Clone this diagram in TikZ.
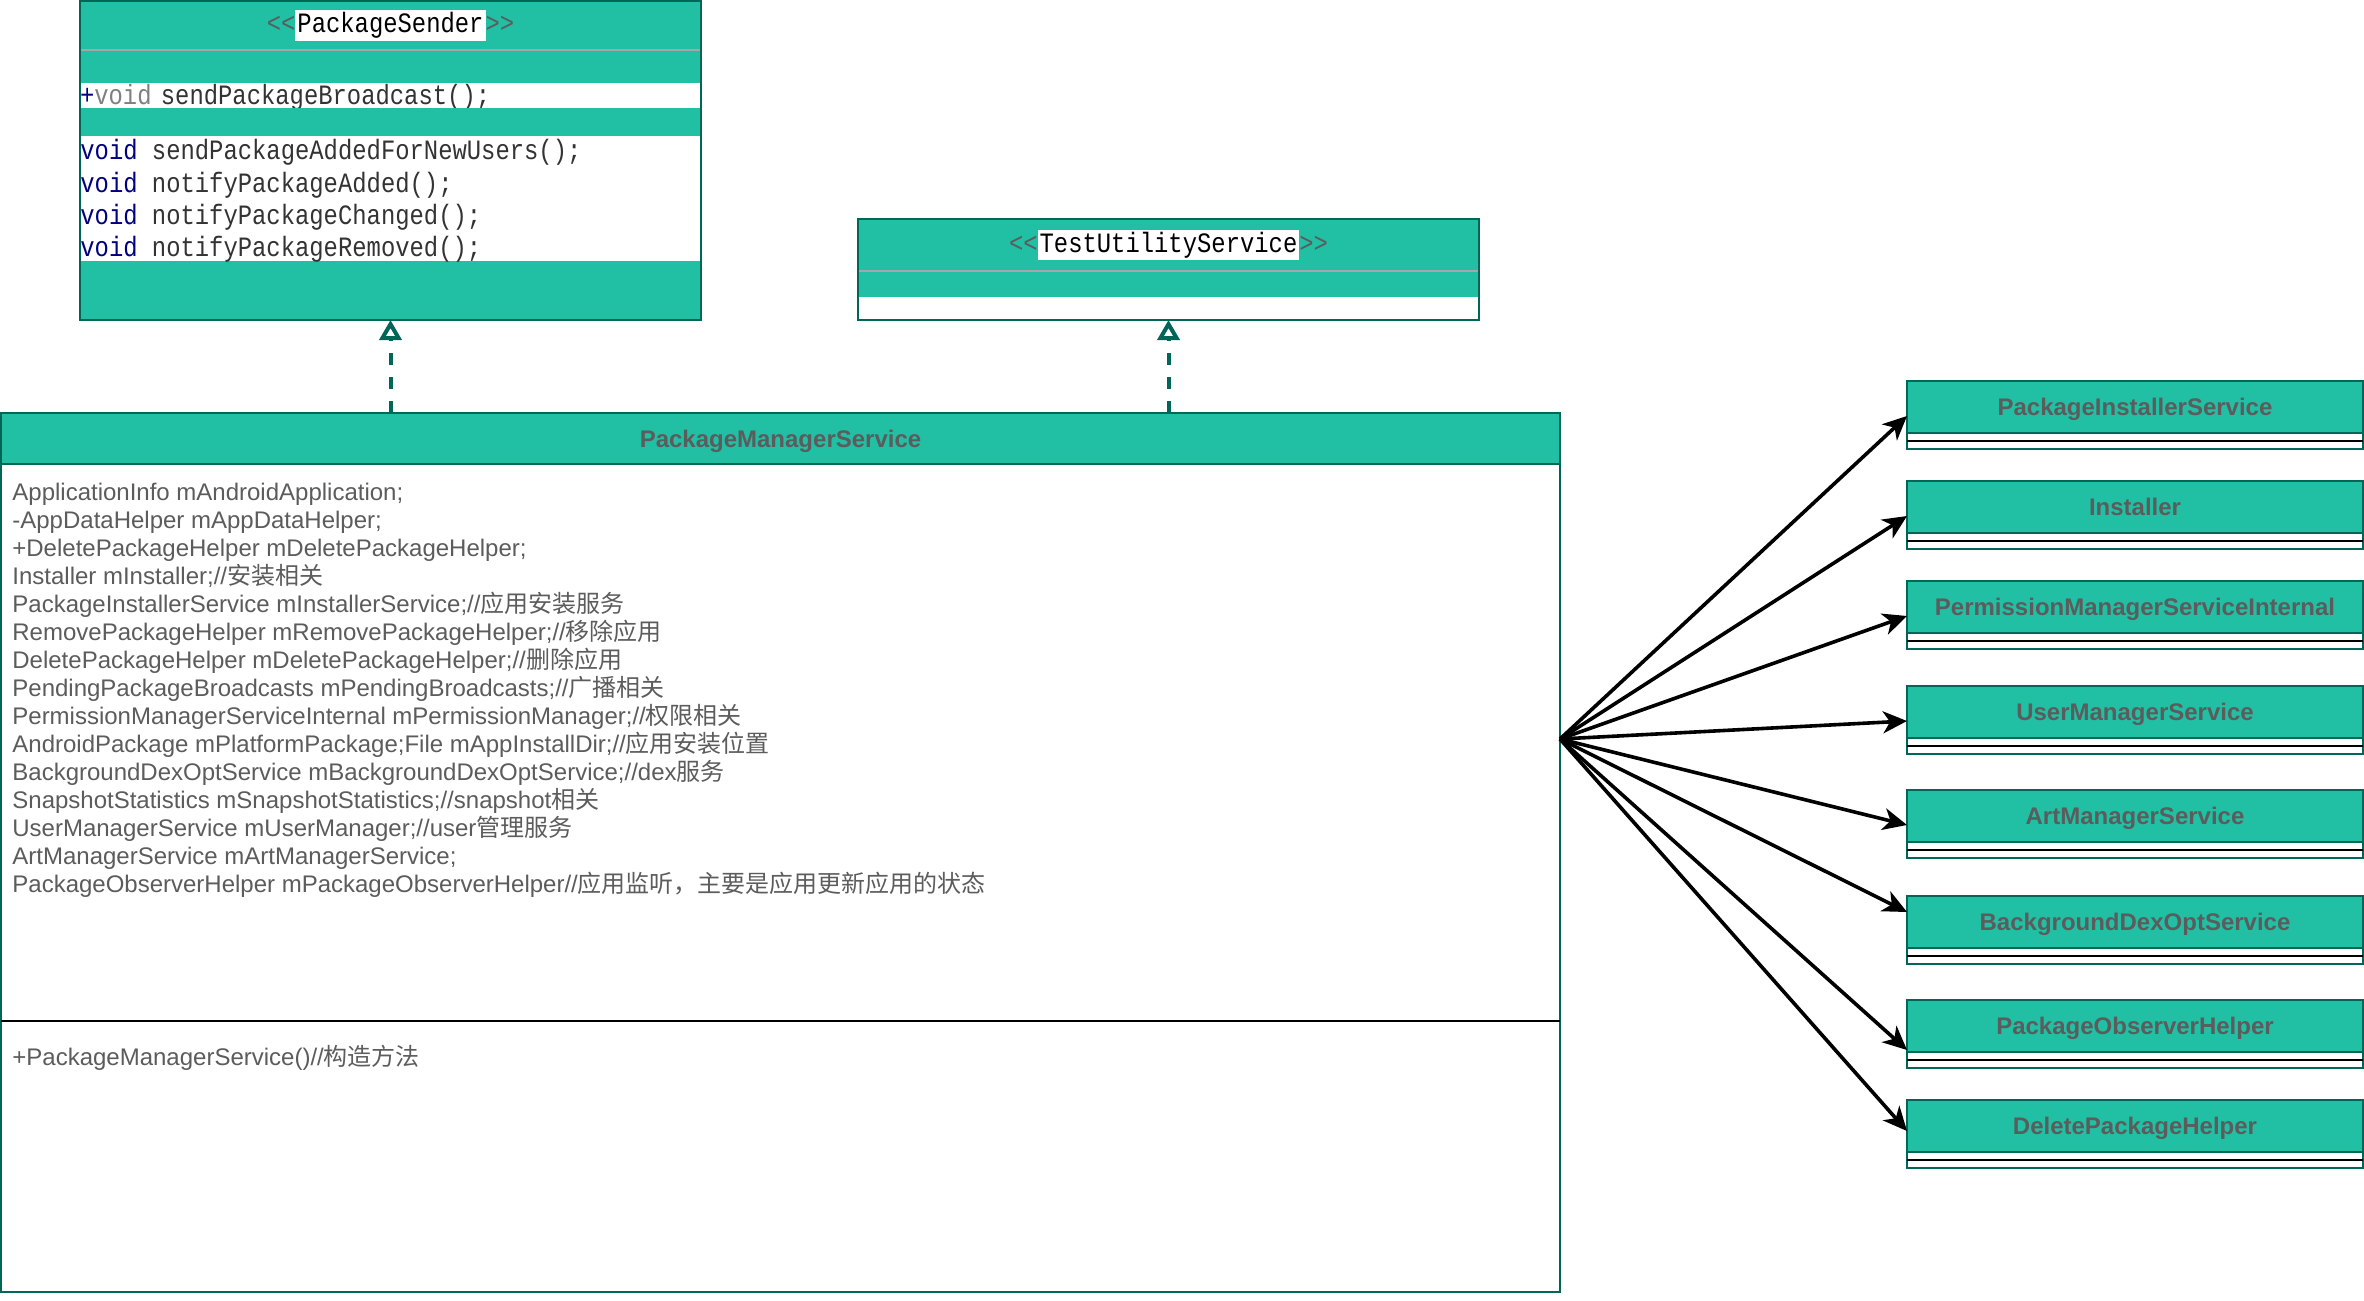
\documentclass[tikz,border=0pt]{standalone}
\usepackage{fontspec}
\setmainfont{Liberation Sans}
\newfontfamily\cjk{Noto Sans CJK SC}
\newfontfamily\codefont[FakeStretch=0.852]{Liberation Mono}
\usetikzlibrary{arrows.meta,positioning}
\definecolor{umlfill}{HTML}{21C0A5}
\definecolor{umlline}{HTML}{006658}
\definecolor{umltext}{HTML}{5C5C5C}
\definecolor{codetext}{HTML}{333333}
\definecolor{codekey}{HTML}{000080}
\newcommand\stereotitle[1]{<{}<{\setlength{\fboxsep}{1pt}\colorbox{white}{\textcolor{black}{#1}}}>{}>}
\tikzset{
  band/.style={fill=umlfill, inner sep=0pt, outer sep=0pt},
  row/.style={fill=white, inner sep=0pt, outer sep=0pt, align=left},
  compart/.style={fill=white, draw=umlline, line width=1pt, inner sep=0pt, outer sep=0pt, minimum width=779.5pt},
  stereo/.style={font=\codefont\fontsize{14}{16}\selectfont, text=umltext},
  codeline/.style={font=\codefont\fontsize{14}{16.1}\selectfont, text=codetext},
  fieldtext/.style={inner sep=0pt, align=left, text=umltext, font=\fontsize{12}{14}\selectfont},
  classhead/.style={fill=umlfill, draw=umlline, line width=1pt, inner sep=0pt, outer sep=0pt, minimum width=228pt, minimum height=26pt, text height=8.8pt, text depth=0pt, text=umltext, font=\bfseries\fontsize{12}{14}\selectfont},
  classfoot/.style={fill=white, draw=umlline, line width=1pt, inner sep=0pt, outer sep=0pt, minimum width=228pt, minimum height=8pt},
  border/.style={draw=umlline, line width=1pt},
  grayline/.style={draw=black!35, line width=1pt},
  sepline/.style={draw=black, line width=1pt},
  realize/.style={-{Triangle[open,length=10pt,width=11pt]}, draw=umlline, line width=2pt, dash pattern=on 6pt off 6pt},
  assoc/.style={-{Stealth[length=12pt,width=11pt,inset=3.5pt]}, line width=1.8pt}
}
\begin{document}
\begin{tikzpicture}[x=1pt,y=-1pt]
\useasboundingbox (0,0) rectangle (1182,650);
% PackageSender interface
\node[band, stereo, minimum width=310.5pt, minimum height=24.5pt, anchor=north west] (pshead) at (40,0.5) {\stereotitle{PackageSender}};
\node[band, minimum width=310.5pt, minimum height=16.5pt, below=0pt of pshead] (psattr) {};
\node[row, codeline, text width=310.5pt, minimum height=12.5pt, text height=10.5pt, text depth=1.5pt, below=0pt of psattr] (psbcast) {\textcolor{codekey}{+}\textcolor{gray}{void} sendPackageBroadcast();};
\node[band, minimum width=310.5pt, minimum height=14pt, below=0pt of psbcast] (psgap) {};
\node[row, minimum width=310.5pt, minimum height=62.5pt, below=0pt of psgap] (psops) {};
\node[band, minimum width=310.5pt, minimum height=29.5pt, below=0pt of psops] (psfoot) {};
\node[codeline, inner sep=0pt, align=left, anchor=west] (psopstext) at ([yshift=-1.2pt]psops.west) {\textcolor{codekey}{void} sendPackageAddedForNewUsers();\\\textcolor{codekey}{void} notifyPackageAdded();\\\textcolor{codekey}{void} notifyPackageChanged();\\\textcolor{codekey}{void} notifyPackageRemoved();};
\draw[grayline] (pshead.south west) -- (pshead.south east);
\draw[border] (pshead.north west) rectangle (psfoot.south east);
% TestUtilityService interface
\node[band, stereo, minimum width=310.5pt, minimum height=26pt, anchor=north west] (tushead) at (429,109.5) {\stereotitle{TestUtilityService}};
\node[band, minimum width=310.5pt, minimum height=13pt, below=0pt of tushead] (tusattr) {};
\node[row, minimum width=310.5pt, minimum height=11.5pt, below=0pt of tusattr] (tusops) {};
\draw[grayline] (tushead.south west) -- (tushead.south east);
\draw[border] (tushead.north west) rectangle (tusops.south east);
% PackageManagerService
\node[compart, fill=umlfill, minimum height=25.5pt, anchor=north west, text height=8.8pt, text depth=0pt, text=umltext, font=\bfseries\fontsize{12}{14}\selectfont] (pmshead) at (0.5,206.5) {PackageManagerService};
\node[compart, minimum height=278.5pt, below=0pt of pmshead] (pmsattr) {};
\node[compart, minimum height=135.5pt, below=0pt of pmsattr] (pmsops) {};
\draw[sepline] (pmsops.north west) -- (pmsops.north east);
\node[fieldtext, anchor=north west] (pmsfields) at ([xshift=5.5pt,yshift=-9.5pt]pmsattr.north west) {ApplicationInfo mAndroidApplication;\\
-AppDataHelper mAppDataHelper;\\
+DeletePackageHelper mDeletePackageHelper;\\
Installer mInstaller;//{\cjk 安装相关}\\
PackageInstallerService mInstallerService;//{\cjk 应用安装服务}\\
RemovePackageHelper mRemovePackageHelper;//{\cjk 移除应用}\\
DeletePackageHelper mDeletePackageHelper;//{\cjk 删除应用}\\
PendingPackageBroadcasts mPendingBroadcasts;//{\cjk 广播相关}\\
PermissionManagerServiceInternal mPermissionManager;//{\cjk 权限相关}\\
AndroidPackage mPlatformPackage;File mAppInstallDir;//{\cjk 应用安装位置}\\
BackgroundDexOptService mBackgroundDexOptService;//dex{\cjk 服务}\\
SnapshotStatistics mSnapshotStatistics;//snapshot{\cjk 相关}\\
UserManagerService mUserManager;//user{\cjk 管理服务}\\
ArtManagerService mArtManagerService;\\
PackageObserverHelper mPackageObserverHelper//{\cjk 应用监听，主要是应用更新应用的状态}};
\node[fieldtext, anchor=north west] (pmsctor) at ([xshift=5.5pt,yshift=-12pt]pmsops.north west) {+PackageManagerService()//{\cjk 构造方法}};
\coordinate (hub) at (780,369.5);
% realizations
\draw[realize] (pmshead.north -| psfoot.south) -- (psfoot.south);
\draw[realize] (pmshead.north -| tusops.south) -- (tusops.south);
% collaborating classes
\node[classhead, anchor=north west] (pis) at (953.5,190.5) {PackageInstallerService};
\node[classfoot, below=0pt of pis] (pisfoot) {};
\draw[sepline] (pisfoot.west) -- (pisfoot.east);
\node[classhead, anchor=north west] (inst) at (953.5,240.5) {Installer};
\node[classfoot, below=0pt of inst] (instfoot) {};
\draw[sepline] (instfoot.west) -- (instfoot.east);
\node[classhead, anchor=north west] (perm) at (953.5,290.5) {PermissionManagerServiceInternal};
\node[classfoot, below=0pt of perm] (permfoot) {};
\draw[sepline] (permfoot.west) -- (permfoot.east);
\node[classhead, anchor=north west] (ums) at (953.5,343) {UserManagerService};
\node[classfoot, below=0pt of ums] (umsfoot) {};
\draw[sepline] (umsfoot.west) -- (umsfoot.east);
\node[classhead, anchor=north west] (art) at (953.5,395) {ArtManagerService};
\node[classfoot, below=0pt of art] (artfoot) {};
\draw[sepline] (artfoot.west) -- (artfoot.east);
\node[classhead, anchor=north west] (bdos) at (953.5,448) {BackgroundDexOptService};
\node[classfoot, below=0pt of bdos] (bdosfoot) {};
\draw[sepline] (bdosfoot.west) -- (bdosfoot.east);
\node[classhead, anchor=north west] (poh) at (953.5,500) {PackageObserverHelper};
\node[classfoot, below=0pt of poh] (pohfoot) {};
\draw[sepline] (pohfoot.west) -- (pohfoot.east);
\node[classhead, anchor=north west] (dph) at (953.5,550) {DeletePackageHelper};
\node[classfoot, below=0pt of dph] (dphfoot) {};
\draw[sepline] (dphfoot.west) -- (dphfoot.east);
% associations
\draw[assoc] (hub) -- ([yshift=-4.5pt]pis.west);
\draw[assoc] (hub) -- ([yshift=-4.5pt]inst.west);
\draw[assoc] (hub) -- ([yshift=-4.5pt]perm.west);
\draw[assoc] (hub) -- ([yshift=-4.5pt]ums.west);
\draw[assoc] (hub) -- ([yshift=-4.5pt]art.west);
\draw[assoc] (hub) -- ([yshift=5pt]bdos.west);
\draw[assoc] (hub) -- ([yshift=-12pt]poh.west);
\draw[assoc] (hub) -- ([yshift=-2.5pt]dph.west);
\end{tikzpicture}
\end{document}
